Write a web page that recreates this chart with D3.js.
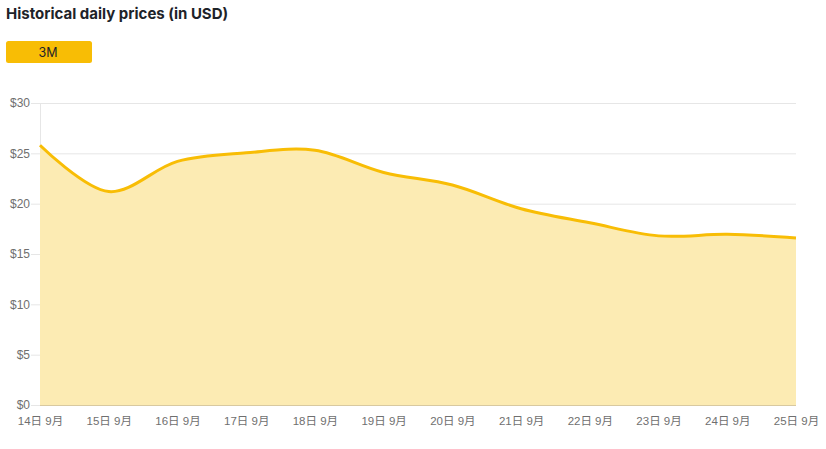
<!DOCTYPE html>
<html><head><meta charset="utf-8">
<script src="https://cdn.jsdelivr.net/npm/d3@7"></script>
<style>
body{margin:0;background:#fff;font-family:"Noto Sans","Inter",sans-serif;}
</style></head>
<body><svg id="c" width="826" height="449"></svg>
<script>
const dayLabels = ["14日 9月","15日 9月","16日 9月","17日 9月","18日 9月","19日 9月","20日 9月","21日 9月","22日 9月","23日 9月","24日 9月","25日 9月"];
const prices = [25.8, 21.2, 24.2, 25.05, 25.3, 23.1, 21.85, 19.5, 18.1, 16.8, 16.95, 16.6];
const yTicks = [0, 5, 10, 15, 20, 25, 30];
const yTickLabels = ["$0","$5","$10","$15","$20","$25","$30"];

const svg = d3.select("#c");
const m = {l:40, r:796, t:103, b:405};
const x = d3.scaleLinear().domain([0, dayLabels.length-1]).range([m.l, m.r]);
const y = d3.scaleLinear().domain([0, 30]).range([m.b, m.t]);

svg.append("text").attr("x",6).attr("y",19).attr("font-size",15).attr("font-weight",700)
  .attr("fill","#1e2329").attr("font-family","Inter, 'Noto Sans', sans-serif").text("Historical daily prices (in USD)");
svg.append("rect").attr("x",6).attr("y",41).attr("width",86).attr("height",22).attr("rx",2.5).attr("fill","#f8bd05");
svg.append("text").attr("x",48).attr("y",56.5).attr("text-anchor","middle").attr("font-size",12.5)
  .attr("fill","#1e2329").attr("font-family","Inter, 'Noto Sans', sans-serif").text("3M");

// grid
const yAxis = d3.axisLeft(y).tickValues(yTicks).tickFormat((d,i)=>yTickLabels[i]).tickSize(-(m.r-m.l)).tickPadding(10);
const gy = svg.append("g").attr("transform",`translate(${m.l},0)`).call(yAxis);
gy.select(".domain").remove();
gy.selectAll(".tick line").attr("stroke","#e6e6e6").attr("x1",-9);
gy.selectAll(".tick text").attr("fill","#6f6f6f").attr("font-size",12).attr("font-family","'Liberation Sans', Arial, sans-serif");
svg.append("line").attr("x1",m.l+0.5).attr("x2",m.l+0.5).attr("y1",m.t).attr("y2",m.b).attr("stroke","#e6e6e6");

const pts = prices.map((v,i)=>[i,v]);
const area = d3.area().x(d=>x(d[0])).y0(y(0)).y1(d=>y(d[1])).curve(d3.curveCatmullRom.alpha(0.5));
const line = d3.line().x(d=>x(d[0])).y(d=>y(d[1])).curve(d3.curveCatmullRom.alpha(0.5));
svg.append("path").datum(pts).attr("d",area).attr("fill","#fcebb3");
svg.append("path").datum(pts).attr("d",line).attr("fill","none").attr("stroke","#f8bd05").attr("stroke-width",3);

svg.append("line").attr("x1",m.l).attr("x2",m.r).attr("y1",m.b+0.5).attr("y2",m.b+0.5).attr("stroke","#d8c9a0");

const xAxis = d3.axisBottom(x).tickValues(d3.range(dayLabels.length)).tickFormat(i=>dayLabels[i]).tickSize(0).tickPadding(12);
const gx = svg.append("g").attr("transform",`translate(0,${m.b})`).call(xAxis);
gx.select(".domain").remove();
gx.selectAll(".tick text").attr("fill","#6f6f6f").attr("font-size",11.5).attr("font-family","'Liberation Sans', 'Noto Sans CJK JP', sans-serif");
</script></body></html>
